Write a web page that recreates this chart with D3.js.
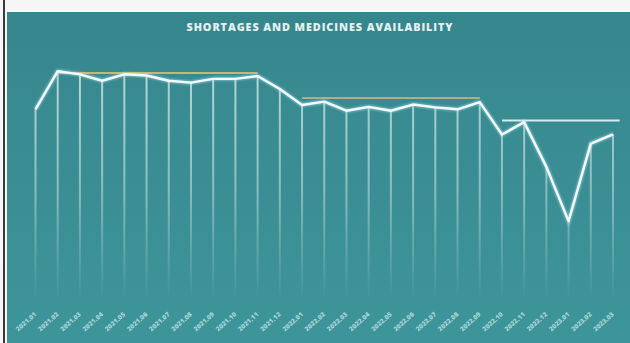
<!DOCTYPE html>
<html>
<head>
<meta charset="utf-8">
<script src="https://cdn.jsdelivr.net/npm/d3@7"></script>
<style>
  html, body { margin: 0; padding: 0; background: #f6f6f6; }
  svg { display: block; }
</style>
</head>
<body>
<svg id="chart" width="630" height="343"></svg>
<script>
// Monthly availability index, Jan 2021 – Mar 2023
const months = [
  "2021.01","2021.02","2021.03","2021.04","2021.05","2021.06","2021.07","2021.08","2021.09",
  "2021.10","2021.11","2021.12","2022.01","2022.02","2022.03","2022.04","2022.05","2022.06",
  "2022.07","2022.08","2022.09","2022.10","2022.11","2022.12","2023.01","2023.02","2023.03"
];
const availability = [
  80, 96, 94.7, 92, 94.7, 94.2, 92, 91.2, 92.8,
  92.8, 94, 88.5, 81.8, 83.2, 79.4, 81, 79.4, 82,
  80.8, 80, 83, 69.4, 74.6, 55.8, 33, 65.6, 69.5
];
// Reference levels per period: [start index, end index, value, colour]
const levelStart = [1, 12, 21];
const levelEnd   = [10, 20, 26.3];
const levelValue = [95.3, 84.8, 75.3];
const levelColor = ["#c9b86a", "#b3ad82", "#d6ecec"];

const title = "SHORTAGES AND MEDICINES AVAILABILITY";

const W = 630, H = 343;
const svg = d3.select("#chart");
const defs = svg.append("defs");

// panel background
const bg = defs.append("linearGradient").attr("id", "panelBg")
  .attr("x1", 0).attr("y1", 0).attr("x2", 0).attr("y2", 1);
bg.append("stop").attr("offset", "0%").attr("stop-color", "#36878d");
bg.append("stop").attr("offset", "100%").attr("stop-color", "#3e9599");

svg.append("rect").attr("x", 0).attr("y", 0).attr("width", W).attr("height", H).attr("fill", "#f6f6f6");
svg.append("rect").attr("x", 7).attr("y", 12).attr("width", W - 7).attr("height", H - 12)
  .attr("fill", "url(#panelBg)");
svg.append("rect").attr("x", 3).attr("y", 0).attr("width", 2).attr("height", H).attr("fill", "#3a3a3a");

svg.append("text")
  .attr("x", 319.5).attr("y", 30.5)
  .attr("text-anchor", "middle")
  .attr("font-family", "'Open Sans', 'DejaVu Sans', sans-serif")
  .attr("font-weight", 800)
  .attr("font-size", 10.8)
  .attr("textLength", 266)
  .attr("lengthAdjust", "spacing")
  .attr("fill", "#e4f0f0")
  .text(title);

// scales
const x = d3.scaleLinear().domain([0, months.length - 1]).range([35.5, 613]);
const y = d3.scaleLinear().domain([30, 100]).range([228.3, 61.7]);

// vertical drop lines fading toward the bottom
const dropTop = 60, dropBottom = 300;
const fade = defs.append("linearGradient").attr("id", "dropFade")
  .attr("gradientUnits", "userSpaceOnUse")
  .attr("x1", 0).attr("y1", dropTop).attr("x2", 0).attr("y2", dropBottom);
fade.append("stop").attr("offset", "0%").attr("stop-color", "#e6f4f4").attr("stop-opacity", 0.75);
fade.append("stop").attr("offset", "55%").attr("stop-color", "#e6f4f4").attr("stop-opacity", 0.45);
fade.append("stop").attr("offset", "100%").attr("stop-color", "#e6f4f4").attr("stop-opacity", 0);

svg.append("g").selectAll("rect")
  .data(availability)
  .join("rect")
  .attr("x", (d, i) => x(i) - 1)
  .attr("y", d => y(d))
  .attr("width", 2)
  .attr("height", d => dropBottom - y(d))
  .attr("fill", "url(#dropFade)");

// reference level segments
svg.append("g").selectAll("line")
  .data(levelValue)
  .join("line")
  .attr("x1", (d, i) => x(levelStart[i]))
  .attr("x2", (d, i) => x(levelEnd[i]))
  .attr("y1", d => y(d))
  .attr("y2", d => y(d))
  .attr("stroke", (d, i) => levelColor[i])
  .attr("stroke-width", 2);

// main availability line with a soft glow
const glow = defs.append("filter").attr("id", "glow")
  .attr("x", "-5%").attr("y", "-20%").attr("width", "110%").attr("height", "140%");
glow.append("feGaussianBlur").attr("stdDeviation", 1.2);

const line = d3.line().x((d, i) => x(i)).y(d => y(d));
svg.append("path").datum(availability)
  .attr("d", line)
  .attr("fill", "none")
  .attr("stroke", "#a9dcf0")
  .attr("stroke-width", 4)
  .attr("stroke-opacity", 0.6)
  .attr("filter", "url(#glow)");
svg.append("path").datum(availability)
  .attr("d", line)
  .attr("fill", "none")
  .attr("stroke", "#f4fbff")
  .attr("stroke-width", 2.4)
  .attr("stroke-linejoin", "round");

// rotated month labels
svg.append("g").selectAll("text")
  .data(months)
  .join("text")
  .attr("transform", (d, i) => `translate(${x(i) + 1.5},${315}) rotate(-42)`)
  .attr("text-anchor", "end")
  .attr("font-family", "'Open Sans', 'DejaVu Sans', sans-serif")
  .attr("font-weight", 800)
  .attr("font-size", 6.6)
  .attr("fill", "#b9dfe0")
  .attr("fill-opacity", 0.85)
  .text(d => d);
</script>
</body>
</html>
